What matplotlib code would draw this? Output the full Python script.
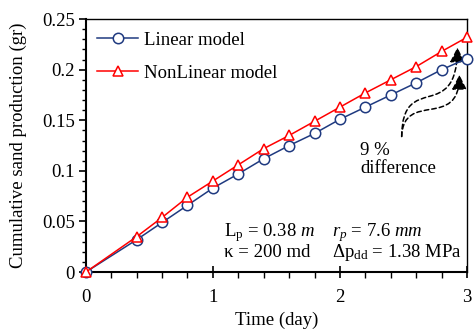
import matplotlib
matplotlib.use("Agg")
import matplotlib.pyplot as plt
from matplotlib.path import Path
from matplotlib.patches import FancyArrowPatch
from matplotlib.ticker import MultipleLocator, FuncFormatter

plt.rcParams['font.family'] = ['Liberation Serif', 'DejaVu Serif']
plt.rcParams['mathtext.fontset'] = 'custom'
plt.rcParams['mathtext.rm'] = 'Liberation Serif'
plt.rcParams['mathtext.it'] = 'Liberation Serif:italic'

# data
time = [0, 0.4, 0.6, 0.8, 1.0, 1.2, 1.4, 1.6, 1.8, 2.0, 2.2, 2.4, 2.6, 2.8, 3.0]
linear = [0, 0.032, 0.049, 0.066, 0.083, 0.097, 0.112, 0.125, 0.137,
          0.151, 0.163, 0.175, 0.187, 0.200, 0.211]
nonlinear = [0, 0.035, 0.054, 0.074, 0.090, 0.106, 0.122, 0.135, 0.149,
             0.163, 0.177, 0.190, 0.203, 0.218, 0.232]

fs = 13.5

fig = plt.figure(figsize=(4.77, 3.29), dpi=100)
ax = fig.add_axes([0.180, 0.173, 0.799, 0.769])

ax.plot(time, linear, color="#1f3a80", marker="o", markersize=7.5,
        markerfacecolor="white", markeredgewidth=1.1, linewidth=1.1,
        label="Linear model", clip_on=False, zorder=3)
ax.plot(time, nonlinear, color="#ff0000", marker="^", markersize=7.5,
        markerfacecolor="white", markeredgewidth=1.1, linewidth=1.1,
        label="NonLinear model", clip_on=False, zorder=3)

ax.set_xlim(0, 3)
ax.set_ylim(0, 0.25)
ax.xaxis.set_major_locator(MultipleLocator(1))
ax.xaxis.set_minor_locator(MultipleLocator(0.2))
ax.yaxis.set_major_locator(MultipleLocator(0.05))
ax.yaxis.set_minor_locator(MultipleLocator(0.01))
ax.yaxis.set_major_formatter(FuncFormatter(lambda v, p: "%g" % round(v, 3)))
ax.tick_params(axis="x", which="major", direction="inout", length=9, width=1.2, labelsize=fs, pad=8)
ax.tick_params(axis="x", which="minor", direction="out", length=4, width=1.0)
ax.tick_params(axis="y", which="major", direction="out", length=5, width=1.2, labelsize=fs, pad=3)
ax.tick_params(axis="y", which="minor", direction="out", length=3, width=1.0)
for s in ["left", "bottom"]:
    ax.spines[s].set_linewidth(1.5)
for s in ["top", "right"]:
    ax.spines[s].set_linewidth(1.0)

ax.set_xlabel("Time (day)", fontsize=fs, labelpad=4)
ax.set_ylabel("Cumulative sand production (gr)", fontsize=fs, labelpad=11)

ax.legend(loc="upper left", frameon=False, fontsize=fs, handlelength=2.2,
          handletextpad=0.3, labelspacing=0.85, borderaxespad=0.2,
          bbox_to_anchor=(0.0, 0.995))

# parameter text
ax.text(1.09, 0.0355, r"L$_\mathrm{p}$ = 0.38 $m$", fontsize=fs)
ax.text(1.09, 0.0145, r"κ = 200 md", fontsize=fs)
ax.text(1.935, 0.0355, r"$r_p$ = 7.6 $mm$", fontsize=fs)
ax.text(1.935, 0.0145, r"Δp$_\mathrm{dd}$ = 1.38 MPa", fontsize=fs)

# difference note and dashed arrows
ax.text(2.157, 0.129, "9 %\ndifference", fontsize=fs, va="top", ha="left", linespacing=1.15)
start = (2.486, 0.134)
curves = [
    [start, (2.49, 0.20), (2.92, 0.145), (2.925, 0.222)],
    [start, (2.50, 0.18), (2.94, 0.14), (2.94, 0.195)],
]
for pts in curves:
    path = Path(pts, [Path.MOVETO, Path.CURVE4, Path.CURVE4, Path.CURVE4])
    arr = FancyArrowPatch(path=path, arrowstyle="-|>,head_length=9,head_width=4.5",
                          color="black", linestyle=(0, (3, 2)), linewidth=1.1,
                          transform=ax.transData)
    ax.add_patch(arr)

fig.savefig("out.png", dpi=100)
